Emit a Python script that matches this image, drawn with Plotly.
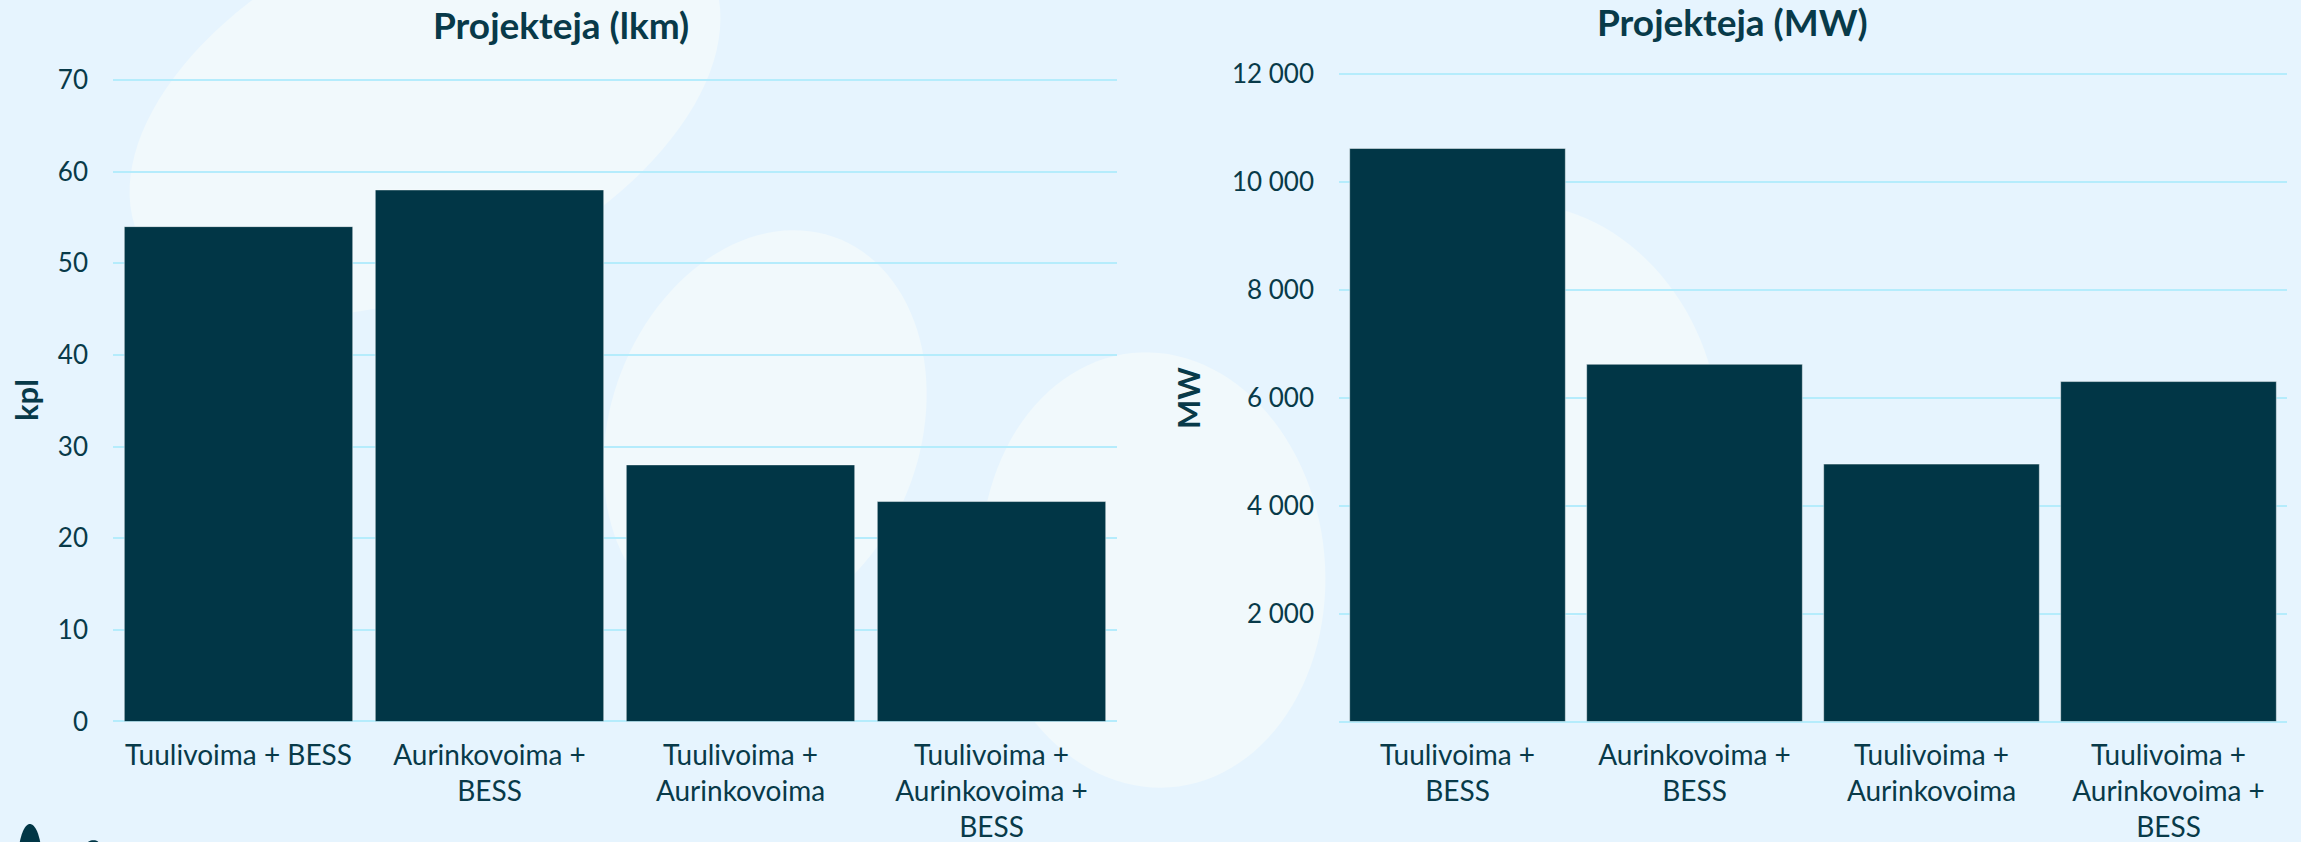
import numpy as np
import plotly.graph_objects as go

# ---------------- data ----------------
categories_count = ["Tuulivoima + BESS", "Aurinkovoima +<br>BESS",
                    "Tuulivoima +<br>Aurinkovoima", "Tuulivoima +<br>Aurinkovoima +<br>BESS"]
categories_mw = ["Tuulivoima +<br>BESS", "Aurinkovoima +<br>BESS",
                 "Tuulivoima +<br>Aurinkovoima", "Tuulivoima +<br>Aurinkovoima +<br>BESS"]
projects_count = [54, 58, 28, 24]
projects_mw = [10620, 6620, 4770, 6300]
count_ticks = [0, 10, 20, 30, 40, 50, 60, 70]
mw_ticks = [2000, 4000, 6000, 8000, 10000, 12000]
title_count = "Projekteja (lkm)"
title_mw = "Projekteja (MW)"
unit_count = "kpl"
unit_mw = "MW"

# ---------------- style ----------------
W, H = 2301, 842
BG = "#e6f4fe"
BLOB = "#f1f9fc"
BAR = "#013646"
TXT = "#083a49"
GRID = "#b5ecfc"
FONT = "Lato"

def px(x):
    return x / W

def py(y):
    return 1 - y / H

def ellipse_path(cx, cy, rx, ry, theta_deg, n=120):
    t = np.linspace(0, 2 * np.pi, n)
    th = np.radians(theta_deg)
    xs = cx + rx * np.cos(t) * np.cos(th) - ry * np.sin(t) * np.sin(th)
    ys = cy + rx * np.cos(t) * np.sin(th) + ry * np.sin(t) * np.cos(th)
    pts = [f"{px(a):.5f},{py(b):.5f}" for a, b in zip(xs, ys)]
    return "M " + " L ".join(pts) + " Z"

fig = go.Figure()
fig.add_trace(go.Bar(x=categories_count, y=projects_count, xaxis="x", yaxis="y",
                     marker=dict(color=BAR, line=dict(color="rgba(255,255,255,0.45)", width=1)),
                     hoverinfo="x+y"))
fig.add_trace(go.Bar(x=categories_mw, y=projects_mw, xaxis="x2", yaxis="y2",
                     marker=dict(color=BAR, line=dict(color="rgba(255,255,255,0.45)", width=1)),
                     hoverinfo="x+y"))

zero_y = 721.5
# left axis: 0 -> 721.5 px, 70 -> 80 px ; right axis: 0 -> 721.5, 12000 -> 74
l_top_val, r_top_val = 70.5, 12080
l_top_px = zero_y - l_top_val * (zero_y - 80) / 70
r_top_px = zero_y - r_top_val * (zero_y - 74) / 12000

axis_common = dict(showgrid=True, gridcolor=GRID, gridwidth=2, zeroline=True,
                   zerolinecolor=GRID, zerolinewidth=2, ticks="", showline=False, automargin=False,
                   tickfont=dict(family=FONT, size=26, color=TXT), ticklabelstandoff=24)
x_common = dict(showgrid=False, zeroline=False, showline=False, ticks="", automargin=False,
                tickfont=dict(family=FONT, size=28, color=TXT), ticklabelstandoff=14,
                fixedrange=True)

shapes = []
for (cx, cy, rx, ry, th) in [(425, 105, 315, 180, -25), (765, 430, 155, 205, 20),
                             (1153, 570, 172, 218, -5), (1540, 410, 175, 210, -20)]:
    shapes.append(dict(type="path", path=ellipse_path(cx, cy, rx, ry, th), xref="paper", yref="paper",
                       fillcolor=BLOB, line=dict(width=0), layer="below"))
for (cx, cy, rx, ry, th) in [(30, 862, 12, 38, 0), (84, 868, 14, 30, 25)]:
    shapes.append(dict(type="path", path=ellipse_path(cx, cy, rx, ry, th), xref="paper", yref="paper",
                       fillcolor=BAR, line=dict(width=0), layer="above"))

fig.update_layout(
    width=W, height=H, margin=dict(l=0, r=0, t=0, b=0, autoexpand=False),
    paper_bgcolor=BG, plot_bgcolor="rgba(0,0,0,0)",
    showlegend=False, bargap=0.09, separators=", ",
    font=dict(family=FONT, color=TXT),
    xaxis=dict(domain=[px(113), px(1117)], anchor="y", **x_common),
    yaxis=dict(domain=[py(zero_y), py(l_top_px)], anchor="x", range=[0, l_top_val],
               tickvals=count_ticks, **axis_common),
    xaxis2=dict(domain=[px(1339), px(2287)], anchor="y2", **x_common),
    yaxis2=dict(domain=[py(zero_y), py(r_top_px)], anchor="x2", range=[0, r_top_val],
                tickvals=mw_ticks, tickformat=",d", **axis_common),
    shapes=shapes,
    annotations=[
        dict(text=f"<b>{title_count}</b>", x=px(561), y=py(25), xref="paper", yref="paper", borderpad=0,
             showarrow=False, font=dict(family=FONT, size=37, color=TXT), xanchor="center", yanchor="middle"),
        dict(text=f"<b>{title_mw}</b>", x=px(1732), y=py(22), xref="paper", yref="paper", borderpad=0,
             showarrow=False, font=dict(family=FONT, size=37, color=TXT), xanchor="center", yanchor="middle"),
        dict(text=f"<b>{unit_count}</b>", x=px(26), y=py(400), xref="paper", yref="paper", textangle=-90,
             showarrow=False, font=dict(family=FONT, size=31, color=TXT), xanchor="center", yanchor="middle"),
        dict(text=f"<b>{unit_mw}</b>", x=px(1188), y=py(398), xref="paper", yref="paper", textangle=-90,
             showarrow=False, font=dict(family=FONT, size=31, color=TXT), xanchor="center", yanchor="middle"),
    ],
)

fig.write_html("out.html", config={"displayModeBar": False},
               post_script="document.body.style.margin='0';document.body.style.overflow='hidden';")
